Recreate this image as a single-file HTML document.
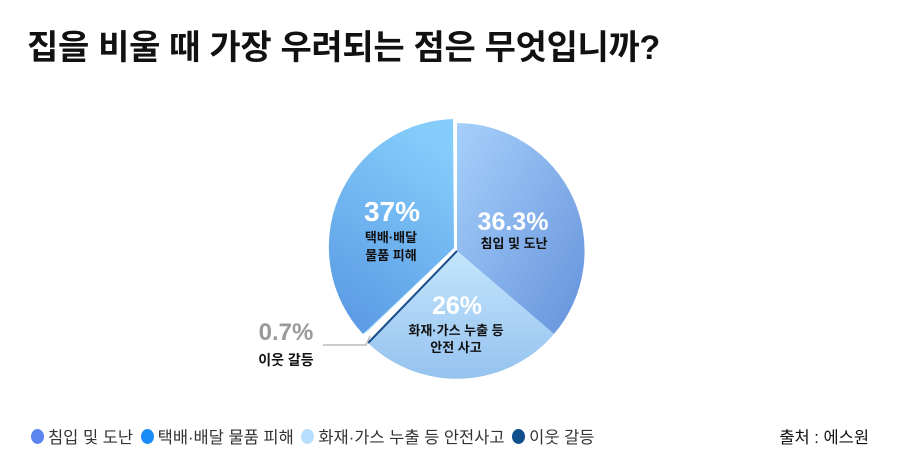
<!DOCTYPE html>
<html><head><meta charset="utf-8"><style>
body{margin:0;background:#fff;width:899px;height:464px;overflow:hidden;position:relative;font-family:"Liberation Sans","Noto Sans CJK KR",sans-serif}
.t{position:absolute;left:27px;top:20px;font-size:34px;font-weight:bold;color:#111;letter-spacing:-0.3px}
.lg{position:absolute;top:424px;left:28px;font-size:16.5px;color:#333;display:flex;align-items:center;white-space:nowrap}
.lg i{display:inline-block;width:13px;height:15px;border-radius:50%;margin:0 4px 0 3px}
.src{position:absolute;right:30px;top:424px;font-size:16.5px;color:#111}
</style></head><body>
<div class="t">집을 비울 때 가장 우려되는 점은 무엇입니까?</div>
<svg width="899" height="464" style="position:absolute;left:0;top:0">
<defs>
<linearGradient id="g1" x1="0" y1="0" x2="1" y2="1"><stop offset="0" stop-color="#a6d0fa"/><stop offset="1" stop-color="#6592dc"/></linearGradient>
<linearGradient id="g2" x1="0.6" y1="0" x2="0.2" y2="1"><stop offset="0" stop-color="#84cdfb"/><stop offset="1" stop-color="#5a9ae4"/></linearGradient>
<linearGradient id="g3" x1="0" y1="0" x2="0" y2="1"><stop offset="0" stop-color="#c4e6fc"/><stop offset="1" stop-color="#95c2ef"/></linearGradient>
</defs>
<path d="M457,251 L457,123 A128,128 0 0 1 554,334 Z" fill="url(#g1)"/>
<path d="M457,251 L554,334 A128,128 0 0 1 368,343 Z" fill="url(#g3)"/>
<path d="M457,251 L368,343 L372,339 Z" fill="#1a4f8c" stroke="#1a4f8c" stroke-width="2"/>
<path d="M453,249 L366,333 A128,128 0 0 1 451,120 Z" fill="#b7e2fc"/>
<path d="M454,248 L363,334 A128,128 0 0 1 453,119 Z" fill="url(#g2)"/>
<polyline points="323,345 366,345 370,336" fill="none" stroke="#bbb" stroke-width="1.5"/>
<g font-family="Liberation Sans, Noto Sans CJK KR, sans-serif" font-weight="bold" text-anchor="middle">
<text x="513" y="230" font-size="25" fill="#fff">36.3%</text>
<text x="514" y="248" font-size="13" fill="#111">침입 및 도난</text>
<text x="392" y="221" font-size="28" fill="#fff">37%</text>
<text x="391" y="242" font-size="13" fill="#111">택배·배달</text>
<text x="391" y="260" font-size="13" fill="#111">물품 피해</text>
<text x="457" y="314" font-size="25" fill="#fff">26%</text>
<text x="456" y="335" font-size="13" fill="#111">화재·가스 누출 등</text>
<text x="456" y="352" font-size="13" fill="#111">안전 사고</text>
<text x="286" y="340" font-size="24" fill="#9a9a9a">0.7%</text>
<text x="286" y="365" font-size="14" fill="#111">이웃 갈등</text>
</g>
</svg>
<div class="lg"><i style="background:#5b86f2"></i>침입 및 도난&nbsp;<i style="background:#1b8cf7"></i>택배·배달 물품 피해&nbsp;<i style="background:#b7defc"></i>화재·가스 누출 등 안전사고&nbsp;<i style="background:#0e4f8c"></i>이웃 갈등</div>
<div class="src">출처 : 에스원</div>
</body></html>
